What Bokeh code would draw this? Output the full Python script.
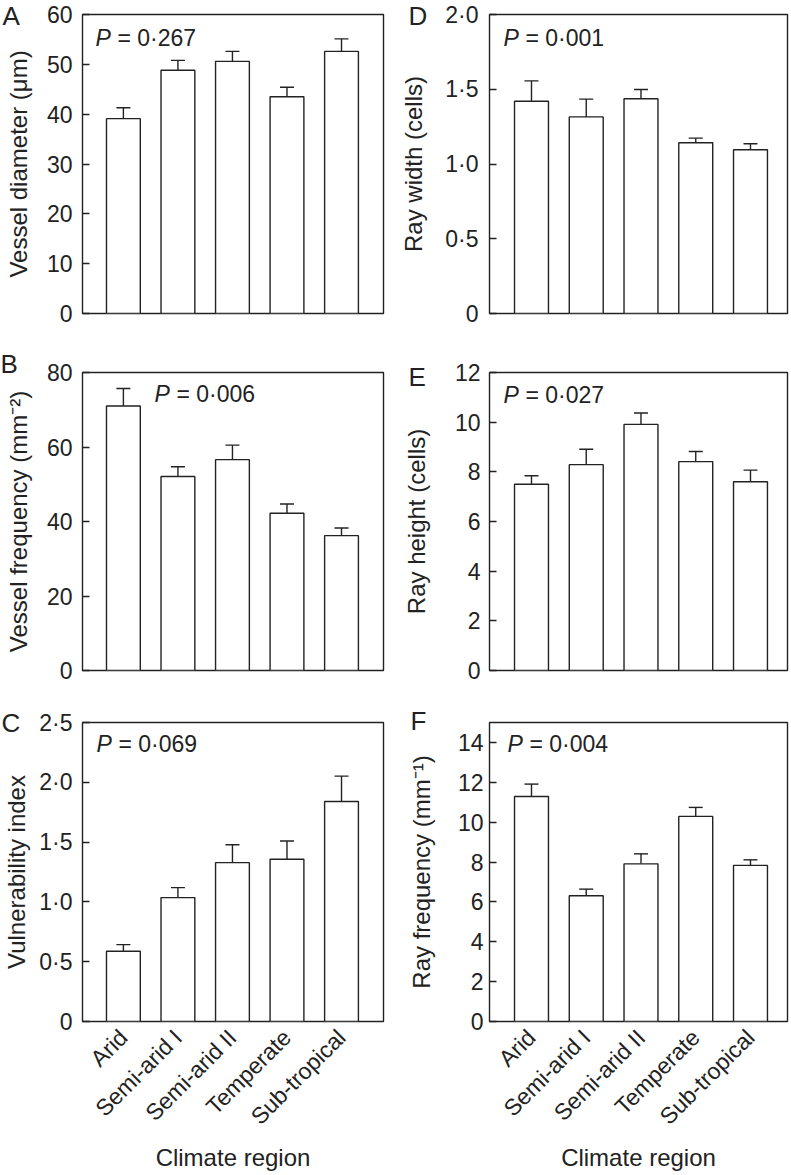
import math
from bokeh.plotting import figure
from bokeh.layouts import column, row
from bokeh.models import Range1d, FixedTicker, Label, Title
from bokeh.embed import file_html
from bokeh.resources import INLINE

# ---------------- data ----------------
regions = ["Arid", "Semi-arid I", "Semi-arid II", "Temperate", "Sub-tropical"]

vessel_diameter = [39.1, 48.8, 50.6, 43.5, 52.6]
vessel_diameter_se = [2.2, 2.0, 2.0, 1.9, 2.5]

vessel_frequency = [71.0, 52.1, 56.6, 42.2, 36.2]
vessel_frequency_se = [4.7, 2.6, 3.9, 2.5, 2.05]

vulnerability_index = [0.587, 1.036, 1.328, 1.356, 1.840]
vulnerability_index_se = [0.056, 0.083, 0.150, 0.153, 0.212]

ray_width = [1.420, 1.315, 1.436, 1.142, 1.095]
ray_width_se = [0.136, 0.119, 0.062, 0.031, 0.040]

ray_height = [7.50, 8.29, 9.91, 8.41, 7.60]
ray_height_se = [0.34, 0.62, 0.46, 0.41, 0.47]

ray_frequency = [11.29, 6.31, 7.91, 10.29, 7.83]
ray_frequency_se = [0.62, 0.33, 0.50, 0.45, 0.28]

ticks_A = [0, 10, 20, 30, 40, 50, 60]
ticks_B = [0, 20, 40, 60, 80]
ticks_C = [0, 0.5, 1.0, 1.5, 2.0, 2.5]
labels_C = ["0", "0·5", "1·0", "1·5", "2·0", "2·5"]
ticks_D = [0, 0.5, 1.0, 1.5, 2.0]
labels_D = ["0", "0·5", "1·0", "1·5", "2·0"]
ticks_E = [0, 2, 4, 6, 8, 10, 12]
ticks_F = [0, 2, 4, 6, 8, 10, 12, 14]

p_values = ["0·267", "0·006", "0·069", "0·001", "0·027", "0·004"]

# ---------------- style ----------------
INK = "#222222"
FONT = "Liberation Sans"
TICK_FS = "23px"
LABEL_FS = "24px"
P_FS = "23px"
LETTER_FS = "26px"


def panel(letter, vals, errs, ymax, ticks, tick_labels, ylabel, ptext,
          width, height, bl, br, bt, bb, xr, tick_standoff, label_standoff,
          letter_dx, letter_standoff, p_dx, p_dy, bottom=False):
    p = figure(width=width, height=height, output_backend="svg",
               toolbar_location=None, x_range=Range1d(*xr),
               y_range=Range1d(0, ymax), min_border_left=bl,
               min_border_right=br, min_border_top=bt, min_border_bottom=bb)
    p.grid.visible = False
    p.background_fill_color = "white"
    p.border_fill_color = "white"
    p.outline_line_color = INK
    p.outline_line_width = 1.4
    p.outline_line_alpha = 1.0

    xs = list(range(len(regions)))
    upper = [v + e for v, e in zip(vals, errs)]
    p.segment(x0=xs, y0=vals, x1=xs, y1=upper, line_color=INK, line_width=1.4)
    p.scatter(x=xs, y=upper, marker="dash", size=14, line_color=INK,
              line_width=1.4)
    p.vbar(x=xs, top=vals, width=0.62, bottom=0, fill_color="white",
           line_color=INK, line_width=1.4)

    ya = p.yaxis[0]
    ya.ticker = FixedTicker(ticks=ticks)
    ya.major_label_overrides = {t: l for t, l in zip(ticks, tick_labels)}
    ya.major_tick_in = 7
    ya.major_tick_out = 0
    ya.minor_tick_in = 0
    ya.minor_tick_out = 0
    ya.major_tick_line_color = INK
    ya.major_tick_line_width = 1.4
    ya.axis_line_color = None
    ya.major_label_text_font = FONT
    ya.major_label_text_font_size = TICK_FS
    ya.major_label_text_color = INK
    ya.major_label_standoff = tick_standoff
    ya.axis_label = ylabel
    ya.axis_label_text_font = FONT
    ya.axis_label_text_font_size = LABEL_FS
    ya.axis_label_text_font_style = "normal"
    ya.axis_label_text_color = INK
    ya.axis_label_standoff = label_standoff

    xa = p.xaxis[0]
    if bottom:
        xa.ticker = FixedTicker(ticks=xs)
        xa.major_label_overrides = {i: r for i, r in zip(xs, regions)}
        xa.major_label_orientation = math.pi / 4
        xa.major_tick_in = 0
        xa.major_tick_out = 0
        xa.minor_tick_in = 0
        xa.minor_tick_out = 0
        xa.axis_line_color = None
        xa.major_label_text_font = FONT
        xa.major_label_text_font_size = TICK_FS
        xa.major_label_text_color = INK
        xa.major_label_standoff = 12
        xa.axis_label = "Climate region"
        xa.axis_label_text_font = FONT
        xa.axis_label_text_font_size = LABEL_FS
        xa.axis_label_text_font_style = "normal"
        xa.axis_label_text_color = INK
        xa.axis_label_standoff = 2
    else:
        xa.visible = False

    # panel letter (as a title so it is not clipped to the frame)
    p.add_layout(Title(text=letter, align="left", offset=letter_dx,
                       standoff=letter_standoff, text_font=FONT,
                       text_font_size=LETTER_FS, text_font_style="normal",
                       text_color=INK, vertical_align="bottom"), "above")
    # P value
    p.add_layout(Label(x=xr[0], y=ymax, x_offset=p_dx, y_offset=-p_dy,
                       text="P", text_font=FONT, text_font_size=P_FS,
                       text_font_style="italic", text_color=INK,
                       text_align="left", text_baseline="middle"))
    p.add_layout(Label(x=xr[0], y=ymax, x_offset=p_dx + 22, y_offset=-p_dy,
                       text="= " + ptext, text_font=FONT, text_font_size=P_FS,
                       text_color=INK, text_align="left",
                       text_baseline="middle"))
    return p


LXR = (-0.75, 4.77)
RXR = (-0.767, 4.676)

pA = panel("A", vessel_diameter, vessel_diameter_se, 60, ticks_A,
           [str(t) for t in ticks_A], "Vessel diameter (\u03bcm)", p_values[0],
           395, 340, 82, 12, 14, 27, LXR, 10, 12, -80, -33, 13, 23)
pD = panel("D", ray_width, ray_width_se, 2.0, ticks_D, labels_D,
           "Ray width (cells)", p_values[3],
           396, 340, 94, 4, 14, 27, RXR, 11, 15, -81, -33, 14, 23)
pB = panel("B", vessel_frequency, vessel_frequency_se, 80, ticks_B,
           [str(t) for t in ticks_B], "Vessel frequency (mm\u207b\u00b2)",
           p_values[1], 395, 350, 82, 12, 32, 20, LXR, 10, 12, -82, -13, 72, 21)
pE = panel("E", ray_height, ray_height_se, 12, ticks_E,
           [str(t) for t in ticks_E], "Ray height (cells)", p_values[4],
           396, 350, 94, 4, 32, 20, RXR, 9, 22, -81, -39, 14, 22)
pC = panel("C", vulnerability_index, vulnerability_index_se, 2.5, ticks_C,
           labels_C, "Vulnerability index", p_values[2],
           395, 484, 82, 12, 32, 153, LXR, 10, 6, -81, -31, 14, 21,
           bottom=True)
pF = panel("F", ray_frequency, ray_frequency_se, 15, ticks_F,
           [str(t) for t in ticks_F], "Ray frequency (mm\u207b\u00b9)",
           p_values[5], 396, 484, 94, 4, 32, 153, RXR, 6, 20, -79, -27, 18, 21,
           bottom=True)

layout = column(row(pA, pD), row(pB, pE), row(pC, pF))

with open("out.html", "w") as f:
    f.write(file_html(layout, INLINE))
